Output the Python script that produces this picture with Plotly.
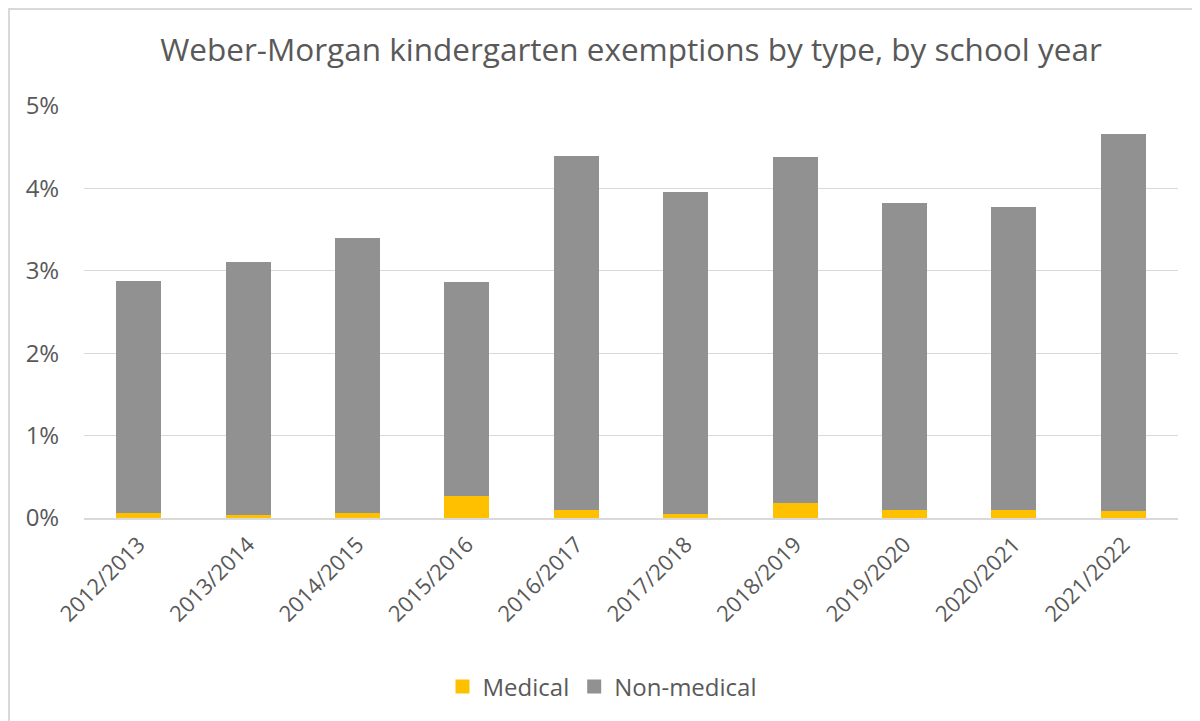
import plotly.graph_objects as go

years = ["2012/2013", "2013/2014", "2014/2015", "2015/2016", "2016/2017",
         "2017/2018", "2018/2019", "2019/2020", "2020/2021", "2021/2022"]
medical = [0.064, 0.035, 0.065, 0.27, 0.095, 0.045, 0.18, 0.095, 0.10, 0.08]
non_medical = [2.81, 3.07, 3.33, 2.60, 4.30, 3.91, 4.20, 3.73, 3.67, 4.58]
y_ticks = [0, 1, 2, 3, 4, 5]
y_tick_labels = ["0%", "1%", "2%", "3%", "4%", "5%"]

W, H = 1200, 721
ML, MR, MT, MB = 76, 30, 98, 211
FONT = "Open Sans"
TXT = "#595959"
C_MED = "#FFC000"
C_NON = "#919191"

fig = go.Figure()
fig.add_trace(go.Bar(x=years, y=medical, name="Medical", showlegend=False,
                     marker=dict(color=C_MED, line=dict(width=0))))
fig.add_trace(go.Bar(x=years, y=non_medical, name="Non-medical", showlegend=False,
                     marker=dict(color=C_NON, line=dict(width=0))))
# legend entries with larger square swatches
fig.add_trace(go.Scatter(x=[None], y=[None], mode="markers", name="Medical",
                         marker=dict(symbol="square", size=14, color=C_MED)))
fig.add_trace(go.Scatter(x=[None], y=[None], mode="markers", name="Non-medical",
                         marker=dict(symbol="square", size=14, color=C_NON)))

pw = W - ML - MR
ph = H - MT - MB
fig.add_shape(type="rect", xref="paper", yref="paper",
              x0=(1 - ML) / pw, x1=(W + 20 - ML) / pw,
              y0=-(H + 20 - MT - ph) / ph, y1=(MT - 1) / ph + 1,
              line=dict(color="#D9D9D9", width=2), fillcolor="rgba(0,0,0,0)", layer="below")

fig.update_layout(
    width=W, height=H,
    barmode="stack", bargap=0.59,
    margin=dict(l=ML, r=MR, t=MT, b=MB, autoexpand=False),
    paper_bgcolor="white", plot_bgcolor="white",
    font=dict(family=FONT, color=TXT, size=22),
    title=dict(text="Weber-Morgan kindergarten exemptions by type, by school year",
               x=623 / W, xanchor="center", y=1 - 42 / H, yanchor="middle",
               font=dict(size=31.5, color=TXT, family=FONT)),
    showlegend=True,
    legend=dict(orientation="h", x=(594 - ML) / pw, xanchor="center",
                y=-(679 - MT - ph) / ph, yanchor="middle",
                font=dict(size=24, color=TXT), traceorder="normal",
                itemwidth=30),
    xaxis=dict(tickangle=-45, showgrid=False, showline=True, linecolor="#D9D9D9",
               linewidth=2, ticks="outside", ticklen=3, tickcolor="rgba(0,0,0,0)",
               automargin=False, tickfont=dict(size=22, color=TXT)),
    yaxis=dict(range=[0, 5], tickvals=y_ticks, ticktext=y_tick_labels,
               showgrid=True, gridcolor="#D9D9D9", gridwidth=1, zeroline=False,
               ticks="outside", ticklen=19, tickcolor="rgba(0,0,0,0)", automargin=False,
               tickfont=dict(size=24, color=TXT), showline=False),
)

fig.write_html("out.html")
